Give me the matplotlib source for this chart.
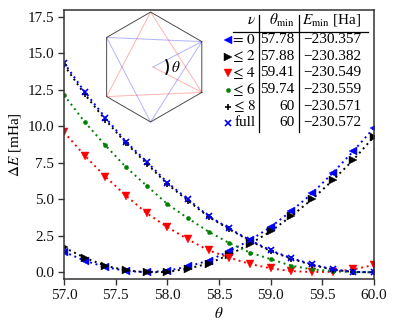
import numpy as np
import matplotlib
matplotlib.use('Agg')
from matplotlib import pyplot as plt

plt.rcParams['font.family'] = ['Liberation Serif', 'DejaVu Serif']
plt.rcParams['mathtext.fontset'] = 'stix'
plt.rcParams['font.size'] = 11
plt.rcParams['axes.unicode_minus'] = True

W, H = 397, 331

theta = [57.0, 57.2, 57.4, 57.6, 57.8, 58.0, 58.2, 58.4,
         58.6, 58.8, 59.0, 59.2, 59.4, 59.6, 59.8, 60.0]

nu0 = [1.4, 0.8, 0.35, 0.1, 0.0, 0.1, 0.4, 0.8, 1.45, 2.2, 3.1, 4.2, 5.4, 6.8, 8.3, 9.9]
nu2 = [1.7, 1.0, 0.45, 0.13, 0.0, 0.02, 0.25, 0.6, 1.2, 1.95, 2.8, 3.85, 5.0, 6.3, 7.7, 9.3]
nu4 = [9.6, 8.0, 6.55, 5.25, 4.05, 3.1, 2.25, 1.5, 1.0, 0.57, 0.27, 0.08, 0.02, 0.03, 0.2, 0.5]
nu6 = [12.15, 10.3, 8.7, 7.2, 5.93, 4.68, 3.7, 2.78, 2.0, 1.35, 0.9, 0.45, 0.2, 0.08, 0.0, 0.0]
nu8 = [14.2, 12.2, 10.45, 8.85, 7.45, 6.05, 4.9, 3.8, 2.95, 2.15, 1.45, 0.93, 0.5, 0.18, 0.02, 0.0]
full = [14.35, 12.37, 10.6, 8.95, 7.58, 6.15, 5.0, 3.85, 3.0, 2.2, 1.5, 0.97, 0.55, 0.2, 0.03, 0.0]

series = [nu0, nu2, nu4, nu6, nu8, full]
colors = ['blue', 'black', 'red', 'green', 'black', 'blue']
markers = ['<', '>', 'v', 'o', '+', 'x']
sizes = [5.8, 5.8, 5.8, 3.0, 4.5, 4.8]
edges = [0.3, 0.3, 0.3, 0.3, 1.2, 1.2]

row_labels = [r'$=\,0$', r'$\leq\,2$', r'$\leq\,4$', r'$\leq\,6$', r'$\leq\,8$', 'full']
theta_min = ['57.78', '57.88', '59.41', '59.74', '60', '60']
e_min = ['\u2212230.357', '\u2212230.382', '\u2212230.549', '\u2212230.559', '\u2212230.571', '\u2212230.572']

hex_angle = 55.0  # opening angle of the little sketch, degrees

fig = plt.figure(figsize=(W / 100, H / 100), dpi=100)
ax = fig.add_axes([64 / W, 1 - 279 / H, 310 / W, 269 / H])

for y, c, m, s, e in zip(series, colors, markers, sizes, edges):
    ax.plot(theta, y, ls=(0, (1, 1.9)), lw=1.4, color=c, marker=m, ms=s, mew=e)

ax.set_xlim(57, 60)
ax.set_ylim(-0.46, 17.97)
ax.set_xticks([57.0, 57.5, 58.0, 58.5, 59.0, 59.5, 60.0])
ax.set_yticks([0, 2.5, 5, 7.5, 10, 12.5, 15, 17.5])
ax.set_xlabel(r'$\theta$', labelpad=3)
ax.set_ylabel(r'$\Delta E$ [mHa]', labelpad=3)
ax.tick_params(length=4, width=1.0, color='#333333', pad=3, labelcolor='#111111')
for sp in ax.spines.values():
    sp.set_linewidth(1.1)
    sp.set_color('#333333')


def px(x, y):
    return x / W, 1 - y / H


# table, placed in figure pixels
rows_y = [39.5, 56.5, 73, 90, 106.5, 123]
fig.text(*px(256, 20), r'$\nu$', ha='right', va='center')
fig.text(*px(294.5, 20), r'$\theta_{\mathrm{min}}$', ha='right', va='center')
fig.text(*px(361, 20), r'$E_{\mathrm{min}}$ [Ha]', ha='right', va='center')
for i, yy in enumerate(rows_y):
    fig.text(*px(256, yy), row_labels[i], ha='right', va='center')
    fig.text(*px(294.5, yy), theta_min[i], ha='right', va='center')
    fig.text(*px(361, yy), e_min[i], ha='right', va='center')
    fig.add_artist(plt.Line2D([228 / W], [1 - yy / H], color=colors[i], marker=markers[i],
                              ms=sizes[i], mew=edges[i], ls='none'))
for xx in [258.7, 298.7]:
    fig.add_artist(plt.Line2D([xx / W, xx / W], [1 - 15 / H, 1 - 132 / H], color='black', lw=0.9))
fig.add_artist(plt.Line2D([233 / W, 368 / W], [1 - 32 / H, 1 - 32 / H], color='black', lw=0.9))

# hexagon sketch
ins = fig.add_axes([(153 - 60) / W, 1 - (67 + 60) / H, 120 / W, 120 / H])
ins.set_xlim(-60, 60)
ins.set_ylim(-60, 60)
ins.axis('off')
ins.patch.set_alpha(0)

r = 55.0
blue_a = np.deg2rad(hex_angle / 2 + np.array([0, 120, 240, 360]))
red_a = np.deg2rad(-hex_angle / 2 + np.array([0, 120, 240, 360]))
ins.plot(r * np.cos(blue_a), r * np.sin(blue_a), color='blue', lw=0.7, alpha=0.3, clip_on=False)
ins.plot(r * np.cos(red_a), r * np.sin(red_a), color='red', lw=0.7, alpha=0.3, clip_on=False)
ins.plot([0, r * np.cos(blue_a[0])], [0, r * np.sin(blue_a[0])], color='blue', lw=0.7, alpha=0.3)
ins.plot([0, r * np.cos(red_a[0])], [0, r * np.sin(red_a[0])], color='red', lw=0.7, alpha=0.3)
outer = np.deg2rad(np.array([-hex_angle / 2, hex_angle / 2, 120 - hex_angle / 2, 120 + hex_angle / 2,
                             240 - hex_angle / 2, 240 + hex_angle / 2, 360 - hex_angle / 2]))
ins.plot(r * np.cos(outer), r * np.sin(outer), color='black', lw=0.7, alpha=0.7, clip_on=False)
arc = np.deg2rad(np.linspace(-hex_angle / 2, hex_angle / 2, 30))
ins.plot(15 * np.cos(arc), 15 * np.sin(arc), color='black', lw=1.3)
ins.text(23, 0, r'$\theta$', ha='center', va='center', fontsize=11)

fig.savefig('out.png', dpi=100)
